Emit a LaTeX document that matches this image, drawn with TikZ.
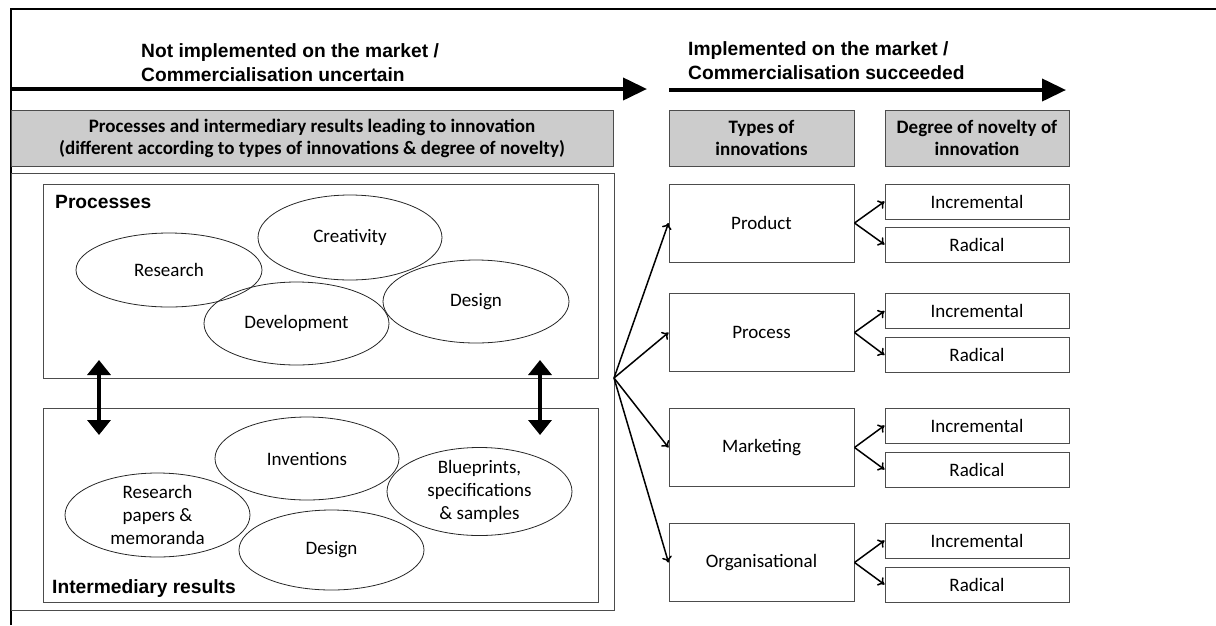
\documentclass[tikz,border=0pt]{standalone}
\usepackage{fontspec}
\setmainfont{Carlito}
\newfontfamily\arialfont{Liberation Sans}
\usetikzlibrary{positioning, arrows.meta, shapes}

\newcommand{\bodytxt}{\fontsize{19}{23}\selectfont}
\newcommand{\hdrtxt}{\bfseries\fontsize{19}{22}\selectfont}
\newcommand{\toptxt}{\arialfont\bfseries\fontsize{19.2}{24}\selectfont}

\tikzstyle{greybox} = [draw=black!70, line width=1pt, fill=black!20, rectangle, inner sep=0pt, align=center, font=\hdrtxt]
\tikzstyle{whitebox} = [draw=black!70, line width=1pt, rectangle, inner sep=0pt, align=center, font=\bodytxt]
\tikzstyle{typebox} = [whitebox, minimum width=185pt, minimum height=78pt]
\tikzstyle{degbox} = [whitebox, minimum width=184pt, minimum height=35pt]
\tikzstyle{blob} = [draw=black!85, line width=0.8pt, ellipse, inner sep=0pt, align=center, font=\bodytxt, minimum width=185pt, minimum height=83pt]
\tikzstyle{toplabel} = [inner sep=0pt, align=left, font=\toptxt]
\tikzstyle{bigarrow} = [line width=4pt, -{Triangle[length=24pt,width=22pt]}]
\tikzstyle{twoway} = [line width=3.5pt, {Triangle[length=15pt,width=23pt]}-{Triangle[length=15pt,width=23pt]}]
\tikzstyle{fan} = [line width=1.5pt, -{To[length=6pt,width=10pt]}]

\begin{document}
\begin{tikzpicture}[x=1pt, y=-1pt]
      \useasboundingbox (0,0) rectangle (1216,625);
      % page frame
      \draw[line width=2pt] (11,625) -- (11,9) -- (1216,9);

      % market arrows
      \node[toplabel, anchor=west] (notimpl) at (141,63) {Not implemented on the market /\\Commercialisation uncertain};
      \node[toplabel, anchor=west] (impl) at (688,61) {Implemented on the market /\\Commercialisation succeeded};
      \coordinate (a1) at (11,89);
      \coordinate (b1) at (647,89);
      \coordinate (a2) at (669,90);
      \coordinate (b2) at (1066,90);
      \draw[bigarrow] (a1) -- (b1);
      \draw[bigarrow] (a2) -- (b2);

      % headers
      \node[greybox, minimum width=602pt, minimum height=56pt] (hdrproc) at (312,138) {Processes and intermediary results leading to innovation\\(different according to types of innovations \& degree of novelty)};
      \node[greybox, minimum width=185pt, minimum height=56pt] (hdrtype) at (761.5,138) {Types of\\innovations};
      \node[greybox, minimum width=184pt, minimum height=56pt] (hdrdeg) at (977,138) {Degree of novelty of\\innovation};

      % left part
      \node[whitebox, minimum width=603pt, minimum height=437pt] (outer) at (312.5,391.5) {};
      \node[whitebox, minimum width=555pt, minimum height=194pt] (procbox) at (320.5,281) {};
      \node[whitebox, minimum width=555pt, minimum height=194pt] (resbox) at (320.5,505) {};
      \node[toplabel, anchor=base west] (proclbl) at (55,208) {Processes};
      \node[toplabel, anchor=base west] (reslbl) at (52,593) {Intermediary results};

      \node[blob, minimum width=186pt, minimum height=74pt] (research) at (169,270) {Research};
      \node[blob, minimum width=184pt, minimum height=85pt] (creativity) at (350,237.5) {Creativity};
      \node[blob] (development) at (296.5,323.5) {Development};
      \node[blob, minimum width=186pt] (design) at (476,301.5) {Design};

      \node[blob, minimum width=184pt] (inventions) at (307,458.5) {Inventions};
      \node[blob, minimum height=84pt] (papers) at (157.5,515) {Research\\papers \&\\memoranda};
      \node[blob, minimum height=80pt] (designres) at (331.5,550) {Design};
      \node[blob] (blueprints) at (479.5,491.5) {Blueprints,\\specifications\\\& samples};

      \coordinate (lt) at (99,360);
      \coordinate (lb) at (99,435);
      \coordinate (rt) at (540,360);
      \coordinate (rb) at (540,435);
      \draw[twoway] (lt) -- (lb);
      \draw[twoway] (rt) -- (rb);

      % right part
      \node[typebox] (product) at (761.5,223) {Product};
      \node[typebox] (process) at (761.5,332.5) {Process};
      \node[typebox] (marketing) at (761.5,447.5) {Marketing};
      \node[typebox] (organisational) at (761.5,562.5) {Organisational};

      \node[degbox] (inc1) at (977,201.5) {Incremental};
      \node[degbox] (rad1) at (977,244.5) {Radical};
      \node[degbox] (inc2) at (977,311) {Incremental};
      \node[degbox] (rad2) at (977,355) {Radical};
      \node[degbox] (inc3) at (977,425.5) {Incremental};
      \node[degbox] (rad3) at (977,469.5) {Radical};
      \node[degbox] (inc4) at (977,540.5) {Incremental};
      \node[degbox] (rad4) at (977,584.5) {Radical};

      \coordinate (hub) at (614,378);
      \draw[fan] (hub) -- (product.west);
      \draw[fan] (hub) -- (process.west);
      \draw[fan] (hub) -- (marketing.west);
      \draw[fan] (hub) -- (organisational.west);

      \draw[fan] (product.east) -- (inc1.west);
      \draw[fan] (product.east) -- (rad1.west);
      \draw[fan] (process.east) -- (inc2.west);
      \draw[fan] (process.east) -- (rad2.west);
      \draw[fan] (marketing.east) -- (inc3.west);
      \draw[fan] (marketing.east) -- (rad3.west);
      \draw[fan] (organisational.east) -- (inc4.west);
      \draw[fan] (organisational.east) -- (rad4.west);
\end{tikzpicture}
\end{document}
